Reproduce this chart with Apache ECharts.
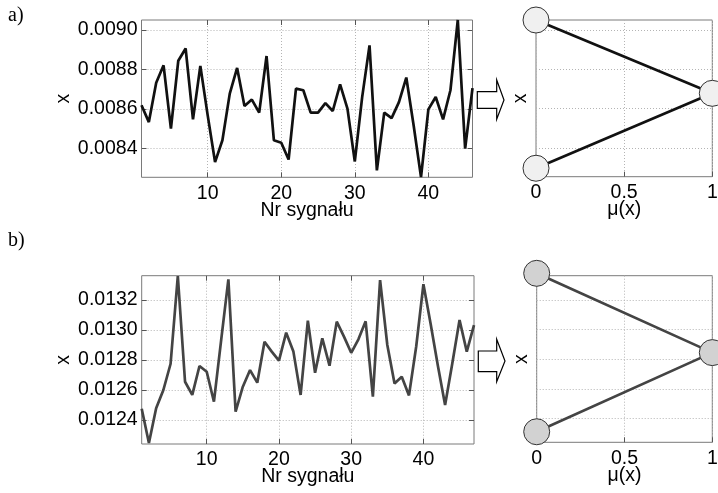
<!DOCTYPE html>
<html>
<head>
<meta charset="utf-8">
<script src="https://cdn.jsdelivr.net/npm/echarts@6/dist/echarts.min.js"></script>
<style>
html, body { margin: 0; padding: 0; background: #fff; }
#main { width: 718px; height: 493px; }
</style>
</head>
<body>
<div id="main"></div>
<script>
// a) signal values, numbered 1..46
var signalsA = [0.008619, 0.008534, 0.008733, 0.008821, 0.008501, 0.008844, 0.008906, 0.008548, 0.008818, 0.008568,
    0.008332, 0.008442, 0.008678, 0.008808, 0.008615, 0.008648, 0.008582, 0.008868, 0.008442, 0.008430,
    0.008345, 0.008703, 0.008695, 0.008582, 0.008582, 0.008630, 0.008590, 0.008725, 0.008602, 0.008335,
    0.008660, 0.008922, 0.008290, 0.008582, 0.008554, 0.008635, 0.008759, 0.008517, 0.008256, 0.008598,
    0.008661, 0.008548, 0.008695, 0.009050, 0.008400, 0.008706];
// b) signal values, numbered 1..47
var signalsB = [0.012475, 0.012247, 0.012478, 0.012600, 0.012775, 0.013360, 0.012655, 0.012567, 0.012760, 0.012722,
    0.012522, 0.012933, 0.013338, 0.012455, 0.012622, 0.012733, 0.012649, 0.012922, 0.012856, 0.012796,
    0.012982, 0.012856, 0.012567, 0.013062, 0.012715, 0.012944, 0.012762, 0.013056, 0.012956, 0.012848,
    0.012938, 0.013058, 0.012556, 0.013333, 0.012900, 0.012644, 0.012689, 0.012564, 0.012890, 0.013305,
    0.013040, 0.012762, 0.012500, 0.012778, 0.013067, 0.012856, 0.013033];

var rangeA = [0.008255, 0.00905];
var rangeB = [0.01224, 0.013362];
var yTicksA = [0.0084, 0.0086, 0.0088, 0.0090];
var yTicksB = [0.0124, 0.0126, 0.0128, 0.0130, 0.0132];
var xTicksSignal = [10, 20, 30, 40];
var xTicksMu = [0, 0.5, 1];

// triangular membership functions (mu, x)
var muPoints = [0, 1, 0];
var memberA = [0.00905, 0.008678, 0.008298];
var memberB = [0.013378, 0.012844, 0.012311];

var FONT = '"Liberation Sans", Arial, sans-serif';
var gridLineStyle = { type: [1, 2], color: '#b4b4b4', width: 1 };
var tickStyle = { color: '#555' };

function xAxisCfg(gridIndex, min, max, ticks, name, fmt) {
    return {
        type: 'value', gridIndex: gridIndex, min: min, max: max,
        name: name, nameLocation: 'middle', nameGap: 23, nameMoveOverlap: false,
        nameTextStyle: { fontFamily: FONT, fontSize: 19.5, color: '#000' },
        axisLine: { show: false },
        axisTick: { show: true, inside: true, length: 5, customValues: ticks, lineStyle: tickStyle },
        axisLabel: { customValues: ticks, margin: 6, fontFamily: FONT, fontSize: 19.5, color: '#000', formatter: fmt },
        splitLine: { show: true, lineStyle: gridLineStyle }
    };
}

function yAxisCfg(gridIndex, range, ticks, showLabels, nameGap) {
    return {
        type: 'value', gridIndex: gridIndex, min: range[0], max: range[1],
        name: 'x', nameLocation: 'middle', nameRotate: 90, nameGap: nameGap, nameMoveOverlap: false,
        nameTextStyle: { fontFamily: FONT, fontSize: 19.5, color: '#000' },
        axisLine: { show: false },
        axisTick: { show: showLabels, inside: true, length: 5, customValues: ticks, lineStyle: tickStyle },
        axisLabel: { show: showLabels, customValues: ticks, margin: 4, fontFamily: FONT, fontSize: 19.5, color: '#000',
            formatter: function (v) { return v.toFixed(4); } },
        splitLine: { show: true, lineStyle: gridLineStyle }
    };
}

// mirrored ticks on the top / right edge of a box
function mirrorAxis(gridIndex, position, min, max, ticks) {
    return {
        type: 'value', gridIndex: gridIndex, position: position, min: min, max: max,
        axisLine: { show: false },
        axisTick: { show: true, inside: true, length: 5, customValues: ticks, lineStyle: tickStyle },
        axisLabel: { show: false },
        splitLine: { show: false }
    };
}

function gridCfg(left, top, width, height) {
    return { left: left, top: top, width: width, height: height, show: true,
        borderColor: '#7a7a7a', borderWidth: 1, outerBoundsMode: 'none', containLabel: false };
}

function muFmt(v) { return v === 0.5 ? '0.5' : String(Math.round(v)); }

var chart = echarts.init(document.getElementById('main'), null, { renderer: 'canvas' });
chart.setOption({
    animation: false,
    backgroundColor: '#fff',
    grid: [
        gridCfg(141.5, 20, 331, 157.3),
        gridCfg(536, 20, 176.3, 156.7),
        gridCfg(141.7, 275.7, 332.3, 168.3),
        gridCfg(536.7, 275.7, 175.6, 166.6)
    ],
    xAxis: [
        xAxisCfg(0, 1, signalsA.length, xTicksSignal, 'Nr sygnału'),
        xAxisCfg(1, 0, 1, xTicksMu, 'μ(x)', muFmt),
        xAxisCfg(2, 1, signalsB.length, xTicksSignal, 'Nr sygnału'),
        xAxisCfg(3, 0, 1, xTicksMu, 'μ(x)', muFmt),
        mirrorAxis(0, 'top', 1, signalsA.length, xTicksSignal),
        mirrorAxis(2, 'top', 1, signalsB.length, xTicksSignal)
    ],
    yAxis: [
        yAxisCfg(0, rangeA, yTicksA, true, 68),
        yAxisCfg(1, rangeA, yTicksA, false, 5),
        yAxisCfg(2, rangeB, yTicksB, true, 68),
        yAxisCfg(3, rangeB, yTicksB, false, 5),
        mirrorAxis(0, 'right', rangeA[0], rangeA[1], yTicksA),
        mirrorAxis(2, 'right', rangeB[0], rangeB[1], yTicksB)
    ],
    series: [
        {
            type: 'line', xAxisIndex: 0, yAxisIndex: 0, showSymbol: false, symbol: 'none',
            lineStyle: { color: '#111', width: 2.7 },
            data: signalsA.map(function (v, i) { return [i + 1, v]; })
        },
        {
            type: 'line', xAxisIndex: 1, yAxisIndex: 1, clip: false,
            symbol: 'circle', symbolSize: 26,
            itemStyle: { color: '#f0f0f0', borderColor: '#333', borderWidth: 1 },
            lineStyle: { color: '#111', width: 2.7 },
            data: muPoints.map(function (m, i) { return [m, memberA[i]]; })
        },
        {
            type: 'line', xAxisIndex: 2, yAxisIndex: 2, showSymbol: false, symbol: 'none',
            lineStyle: { color: '#444', width: 2.7 },
            data: signalsB.map(function (v, i) { return [i + 1, v]; })
        },
        {
            type: 'line', xAxisIndex: 3, yAxisIndex: 3, clip: false,
            symbol: 'circle', symbolSize: 26,
            itemStyle: { color: '#d2d2d2', borderColor: '#333', borderWidth: 1 },
            lineStyle: { color: '#444', width: 2.7 },
            data: muPoints.map(function (m, i) { return [m, memberB[i]]; })
        }
    ],
    graphic: [
        { type: 'text', left: 8, top: 6, style: { text: 'a)', font: '20px "Liberation Serif", serif', fill: '#000' } },
        { type: 'text', left: 8, top: 231, style: { text: 'b)', font: '20px "Liberation Serif", serif', fill: '#000' } },
        { type: 'polygon', shape: { points: [[477.3, 91.7], [496.7, 91.7], [496.7, 80], [504, 100], [496.7, 119.3], [496.7, 108.3], [477.3, 108.3]] },
          style: { fill: '#fff', stroke: '#000', lineWidth: 1.2 } },
        { type: 'polygon', shape: { points: [[478.3, 351], [496.7, 351], [496.7, 339.3], [505, 361], [496.7, 381.7], [496.7, 371.7], [478.3, 371.7]] },
          style: { fill: '#fff', stroke: '#000', lineWidth: 1.2 } }
    ]
});
</script>
</body>
</html>
